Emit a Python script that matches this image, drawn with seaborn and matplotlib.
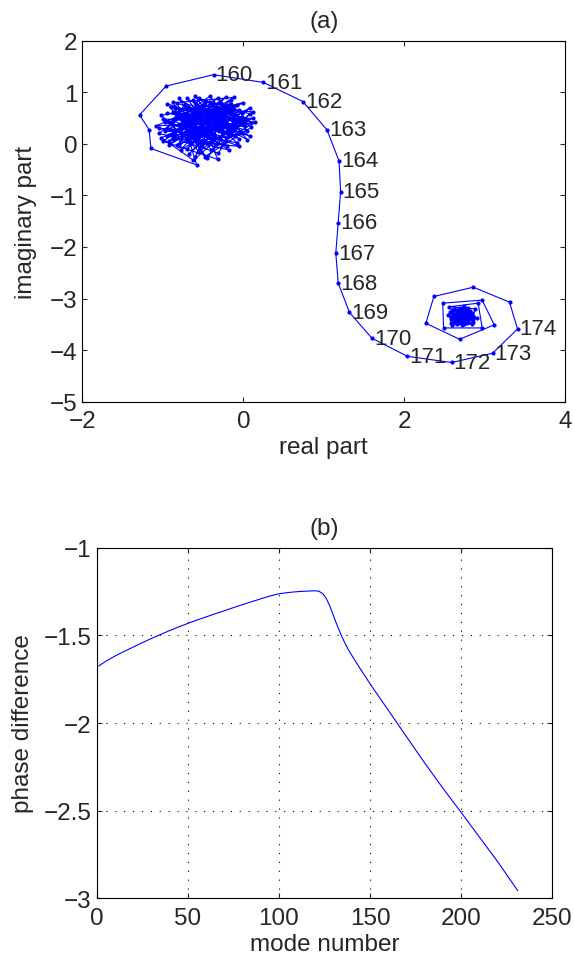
import numpy as np
import pandas as pd
import matplotlib
matplotlib.use('Agg')
import matplotlib.pyplot as plt
from matplotlib.ticker import FuncFormatter
import seaborn as sns

# (a) trajectory in the complex plane
# wandering cluster before the jump
cluster_a_re = [-0.62, -0.15, -0.88, -0.31, -0.05, -0.72, -0.95, -0.22, 0.08, -0.55,
                -0.80, -0.40, -0.02, -0.66, -1.02, -0.28, 0.10, -0.48, -0.85, -0.12,
                -0.58, -0.35, -0.92, -0.08, -0.70, -0.18, -1.05, -0.42, 0.05, -0.62,
                -0.30, -0.78, 0.12, -0.52, -0.88, -0.25, -0.68, -0.05, -0.98, -0.38,
                -0.15, -0.75, 0.02, -0.45, -1.00, -0.32, -0.60, -0.10, -0.82, -0.20,
                -0.55, -0.90, 0.14, -0.40, -0.72, -0.28, -1.08, -0.50, -0.02, -0.65,
                -0.22, -0.85, -0.35, 0.08, -0.78, -0.45, -0.95, -0.12, -0.58, -0.30,
                -0.70, -0.05, -0.88, -0.42, -0.18, -0.62, -1.02, -0.25, 0.05, -0.52,
                -0.80, -0.35, -0.68, -0.10, -0.48, -0.92, -0.20,
                -0.45, -0.05, -0.85, -0.25, -0.60, 0.10, -0.95, -0.35, -0.70, -0.12,
                -0.50, -1.00, -0.20, -0.65, 0.00, -0.78, -0.38, -0.15, -0.90, -0.55,
                0.12, -0.48, -0.82, -0.28, -0.62, -0.08, -1.05, -0.42, -0.72, -0.18,
                -0.58, -0.95, 0.05, -0.32, -0.75, -0.45, -0.10, -0.85, -0.25, -0.65,
                -0.02, -0.52, -0.98, -0.35, -0.70, 0.08, -0.88, -0.40, -0.60, -0.15,
                -0.78, -0.30, -0.55, 0.02, -0.92, -0.48, -0.22, -0.68, -0.12, -0.82,
                -0.58, -1.15, -1.17, -1.29, -0.96]
cluster_a_im = [0.41, 0.62, 0.12, -0.18, 0.45, 0.78, 0.30, 0.05, 0.58, 0.88,
                -0.05, 0.52, 0.20, 0.02, 0.55, 0.80, 0.32, -0.25, 0.62, 0.38,
                0.15, 0.70, -0.02, 0.75, 0.45, -0.12, 0.20, 0.92, 0.08, 0.65,
                0.25, 0.35, 0.50, -0.05, 0.82, 0.48, -0.20, 0.65, 0.42, 0.10,
                0.85, 0.18, 0.35, 0.62, 0.05, -0.30, 0.80, 0.15, 0.52, 0.68,
                0.30, 0.72, 0.42, -0.12, 0.60, 0.40, 0.35, 0.75, 0.52, 0.25,
                0.90, 0.25, 0.00, 0.70, -0.12, 0.45, 0.60, 0.28, 0.58, 0.65,
                0.05, -0.05, 0.45, 0.82, 0.30, -0.32, 0.12, 0.58, 0.48, 0.20,
                0.88, 0.35, 0.70, 0.55, 0.05, 0.18, 0.75,
                0.30, 0.10, 0.70, 0.20, 0.92, 0.40, 0.15, 0.55, -0.10, 0.68,
                0.45, 0.48, -0.05, 0.55, 0.80, 0.10, 0.78, 0.22, 0.38, -0.15,
                0.62, 0.68, -0.02, 0.32, 0.85, 0.02, 0.30, 0.25, 0.72, 0.50,
                0.08, 0.78, 0.25, 0.88, 0.40, -0.28, 0.45, 0.50, 0.72, 0.12,
                0.60, 0.60, 0.25, 0.15, 0.88, 0.15, 0.62, 0.38, -0.25, 0.78,
                0.28, 0.50, 0.72, 0.42, 0.05, 0.82, 0.12, 0.35, 0.90, 0.80,
                -0.41, -0.09, 0.27, 0.56, 1.12]

# labelled transition points
path_labels = [160, 161, 162, 163, 164, 165, 166, 167, 168, 169, 170, 171, 172, 173, 174]
path_re = [-0.37, 0.25, 0.74, 1.04, 1.19, 1.21, 1.18, 1.15, 1.18, 1.32, 1.60, 2.04, 2.59, 3.10, 3.41]
path_im = [1.34, 1.19, 0.82, 0.27, -0.33, -0.93, -1.53, -2.12, -2.70, -3.27, -3.77, -4.12, -4.24, -4.06, -3.59]

# spiral into the second cluster
cluster_b_re = [3.31, 2.86, 2.37, 2.27, 2.69, 3.12, 2.97, 2.48, 2.49, 2.97,
                2.92, 2.56, 2.88, 2.84, 2.58, 2.62, 2.82, 2.80, 2.62, 2.65,
                2.78, 2.76, 2.64, 2.70, 2.86, 2.72, 2.55, 2.74, 2.90, 2.66,
                2.57, 2.80, 2.85, 2.60, 2.68, 2.77, 2.66, 2.73, 2.62, 2.82,
                2.60, 2.84, 2.78, 2.58, 2.70, 2.86, 2.64, 2.76, 2.62, 2.80,
                2.68, 2.74, 2.58, 2.82, 2.72, 2.66, 2.78, 2.63, 2.75, 2.70,
                2.80, 2.65, 2.73, 2.68, 2.71, 2.70, 2.69]
cluster_b_im = [-3.07, -2.78, -2.96, -3.48, -3.79, -3.51, -3.03, -3.09, -3.57, -3.57,
                -3.09, -3.16, -3.20, -3.50, -3.47, -3.20, -3.24, -3.45, -3.44, -3.23,
                -3.27, -3.42, -3.40, -3.18, -3.34, -3.52, -3.32, -3.15, -3.38, -3.50,
                -3.26, -3.18, -3.46, -3.52, -3.28, -3.36, -3.38, -3.25, -3.30, -3.30,
                -3.22, -3.28, -3.48, -3.40, -3.20, -3.40, -3.46, -3.22, -3.30, -3.42,
                -3.24, -3.50, -3.36, -3.34, -3.26, -3.44, -3.30, -3.36, -3.40, -3.28,
                -3.36, -3.32, -3.44, -3.38, -3.34, -3.45, -3.33]

# (b) phase difference vs mode number
mode_number = [1, 5, 10, 15, 20, 25, 30, 35, 40, 45, 50, 55, 60, 65, 70, 75, 80, 85,
               90, 95, 100, 105, 110, 115, 120, 122, 124, 126, 128, 130, 132, 134,
               136, 138, 140, 145, 150, 155, 160, 170, 180, 190, 200, 210, 220, 231]
phase_diff = [-1.675, -1.648, -1.618, -1.592, -1.567, -1.542, -1.518, -1.495, -1.473,
              -1.452, -1.432, -1.413, -1.395, -1.377, -1.36, -1.342, -1.325, -1.308,
              -1.292, -1.276, -1.263, -1.256, -1.251, -1.248, -1.246, -1.249, -1.262,
              -1.29, -1.335, -1.39, -1.445, -1.495, -1.54, -1.58, -1.615, -1.697,
              -1.776, -1.852, -1.927, -2.078, -2.228, -2.372, -2.51, -2.65, -2.79,
              -2.955]

sns.set_style('ticks')
plt.rcParams['font.family'] = ['Liberation Sans', 'DejaVu Sans']
plt.rcParams['axes.linewidth'] = 0.8

traj = pd.DataFrame({
    're': cluster_a_re + path_re + cluster_b_re,
    'im': cluster_a_im + path_im + cluster_b_im,
})
phase = pd.DataFrame({'mode': mode_number, 'phase': phase_diff})

fig = plt.figure(figsize=(5.74, 9.62), dpi=100)
ax1 = fig.add_axes([0.1437, 0.5814, 0.8406, 0.3753])
ax2 = fig.add_axes([0.1685, 0.065, 0.7937, 0.3647])

sns.lineplot(data=traj, x='re', y='im', sort=False, estimator=None, color='blue',
             lw=0.8, marker='o', markersize=3, markeredgewidth=0, ax=ax1)
for lab, re, im in zip(path_labels, path_re, path_im):
    ax1.annotate(str(lab), (re, im), xytext=(1.5, 0), textcoords='offset points',
                 ha='left', va='center', fontsize=16)

sns.lineplot(data=phase, x='mode', y='phase', sort=False, estimator=None,
             color='blue', lw=0.8, ax=ax2)

fmt = FuncFormatter(lambda v, p: ('%g' % v).replace('-', '\u2212'))

ax1.set_xlim(-2, 4)
ax1.set_ylim(-5, 2)
ax1.set_xticks([-2, 0, 2, 4])
ax1.set_yticks(np.arange(-5, 3))
ax1.set_xlabel('real part', fontsize=17.5, labelpad=3)
ax1.set_ylabel('imaginary part', fontsize=17.5, labelpad=9)
ax1.set_title('(a)', fontsize=17.5, pad=10)

ax2.set_xlim(0, 250)
ax2.set_ylim(-3, -1)
ax2.set_xticks(np.arange(0, 251, 50))
ax2.set_yticks([-3, -2.5, -2, -1.5, -1])
ax2.grid(True, color='black', linestyle=(0, (1, 7)), linewidth=0.8)
ax2.set_xlabel('mode number', fontsize=17.5, labelpad=3)
ax2.set_ylabel('phase difference', fontsize=17.5, labelpad=7)
ax2.set_title('(b)', fontsize=17.5, pad=10)

for ax in (ax1, ax2):
    ax.xaxis.set_major_formatter(fmt)
    ax.yaxis.set_major_formatter(fmt)
    ax.tick_params(direction='in', top=True, right=True, length=3.5, width=0.8,
                   labelsize=17.5)
    ax.tick_params(axis='x', pad=6)
    ax.tick_params(axis='y', pad=3.5)
    for s in ax.spines.values():
        s.set_color('black')

fig.savefig('out.png', dpi=100)
